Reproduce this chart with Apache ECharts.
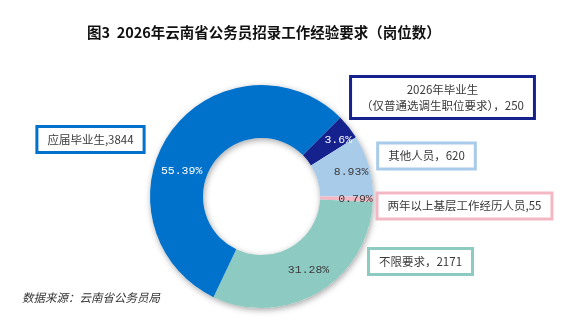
<!DOCTYPE html>
<html><head><meta charset="utf-8">
<script src="https://cdn.jsdelivr.net/npm/echarts@6/dist/echarts.min.js"></script>
<style>html,body{margin:0;padding:0;background:#fff}#c{width:568px;height:323px}</style>
</head><body><div id="c"></div>
<script>
// Data (clockwise order starting from the navy slice)
const categories = ['2026年毕业生\n（仅普通选调生职位要求）', '其他人员', '两年以上基层工作经历人员', '不限要求', '应届毕业生'];
const values = [250, 620, 55, 2171, 3844];
const separators = ['，', '，', ',', '，', ','];
const titleText = '图3  2026年云南省公务员招录工作经验要求（岗位数）';
const sourceText = '数据来源：云南省公务员局';

// Styles
const colors = ['#15218C', '#A8CBEA', '#F4B8C4', '#8DCAC1', '#0072CC'];
const pctColors = ['#fff', '#3a3a3a', '#3a3a3a', '#3a3a3a', '#fff'];
const pctOffsets = [[8, -2], [5, 0], [6, 0], [2, -2], [-8, 25]];
const boxCenters = [[442.5, 97.5], [426.5, 156], [464.5, 206], [420.5, 261.5], [90.5, 139.5]];
const center = [261.5, 196.5];
const radius = [58.5, 111.5];
const startAngle = 45.1;

const total = values.reduce((a, b) => a + b, 0);
const pctText = v => parseFloat((v / total * 100).toFixed(2)) + '%';

const chart = echarts.init(document.getElementById('c'), null, {renderer: 'canvas'});
const data = categories.map((n, i) => ({name: n, value: values[i], itemStyle: {color: colors[i]}}));

chart.setOption({
  animation: false,
  title: {
    text: titleText, left: 82, top: 20,
    textStyle: {fontFamily: '"Noto Sans CJK SC"', fontWeight: 'bold', fontSize: 14.5, color: '#111'}
  },
  graphic: [{
    type: 'text', left: 22, top: 292,
    style: {text: sourceText, font: 'italic 11.5px "Noto Sans CJK SC"', fill: '#333'}
  }],
  series: [
    { // shadow backdrop
      type: 'pie', silent: true, center: center, radius: radius, startAngle: startAngle,
      label: {show: false}, labelLine: {show: false}, z: 1,
      itemStyle: {color: '#fff', shadowBlur: 6, shadowColor: 'rgba(0,0,0,0.35)', shadowOffsetX: 1, shadowOffsetY: 2},
      data: [{value: 1, name: 'bg'}]
    },
    { // main ring with percentage labels
      type: 'pie', silent: true, center: center, radius: radius, startAngle: startAngle,
      clockwise: true, avoidLabelOverlap: false, z: 2,
      label: {
        show: true, position: 'inside', formatter: p => pctText(p.value),
        fontFamily: '"Liberation Mono", monospace', fontSize: 11.5
      },
      labelLayout: function (p) {
        const o = pctOffsets[p.dataIndex];
        return {dx: o[0], dy: o[1]};
      },
      labelLine: {show: false},
      data: data.map((d, i) => Object.assign({}, d, {label: {color: pctColors[i]}}))
    },
    { // transparent overlay carrying boxed category labels
      type: 'pie', silent: true, center: center, radius: radius, startAngle: startAngle,
      avoidLabelOverlap: false, z: 3,
      itemStyle: {color: 'rgba(0,0,0,0)'},
      label: {
        show: true, position: 'outside',
        formatter: p => p.name + separators[p.dataIndex] + p.value,
        fontFamily: '"Noto Sans CJK SC"', fontSize: 11.5, color: '#3a3a3a',
        backgroundColor: '#fff', borderWidth: 3, padding: [4, 9, 3, 9], lineHeight: 16, align: 'center'
      },
      labelLine: {show: false},
      labelLayout: function (p) {
        const c = boxCenters[p.dataIndex];
        return {x: c[0], y: c[1], align: 'center', verticalAlign: 'middle'};
      },
      data: data.map((d, i) => ({name: d.name, value: d.value, label: {borderColor: colors[i]}}))
    }
  ]
});
</script></body></html>
